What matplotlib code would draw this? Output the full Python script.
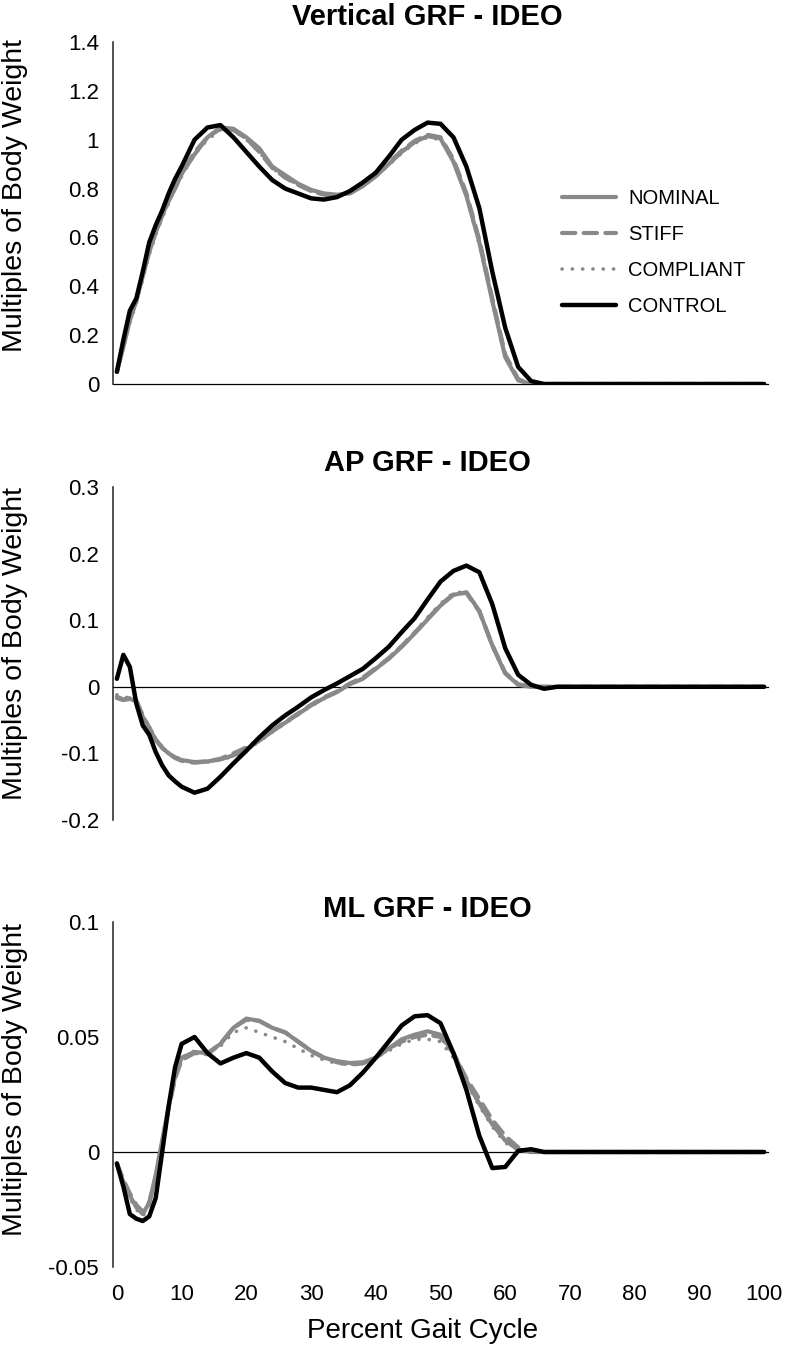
import matplotlib.pyplot as plt

plt.rcParams['font.family'] = ['Liberation Sans', 'DejaVu Sans']
plt.rcParams['axes.unicode_minus'] = False

# Percent of gait cycle (shared x values)
pct = [0, 1, 2, 3, 4, 5, 6, 7, 8, 9, 10, 12, 14, 16, 18, 20, 22, 24, 26, 28, 30,
       32, 34, 36, 38, 40, 42, 44, 46, 48, 50, 52, 54, 56, 58, 60, 62, 64, 66, 68, 100]

series_names = ["NOMINAL", "STIFF", "COMPLIANT", "CONTROL"]

# Vertical GRF
vert_nominal = [0.05, 0.15, 0.26, 0.34, 0.44, 0.54, 0.62, 0.69, 0.75, 0.80, 0.86, 0.94, 1.01, 1.05, 1.045,
                1.01, 0.965, 0.89, 0.855, 0.82, 0.795, 0.78, 0.775, 0.78, 0.81, 0.85, 0.90, 0.95, 0.99, 1.015,
                1.005, 0.91, 0.77, 0.58, 0.34, 0.11, 0.015, 0.0, 0.0, 0.0, 0.0]
vert_stiff = [0.05, 0.16, 0.27, 0.34, 0.45, 0.55, 0.62, 0.69, 0.75, 0.81, 0.86, 0.95, 1.01, 1.045, 1.04,
              1.005, 0.95, 0.885, 0.845, 0.815, 0.79, 0.775, 0.77, 0.785, 0.815, 0.855, 0.905, 0.955, 0.995, 1.02,
              1.01, 0.92, 0.78, 0.59, 0.35, 0.12, 0.02, 0.0, 0.0, 0.0, 0.0]
vert_compliant = [0.05, 0.15, 0.25, 0.33, 0.43, 0.53, 0.61, 0.68, 0.74, 0.80, 0.85, 0.94, 1.00, 1.04, 1.04,
                  1.00, 0.95, 0.885, 0.845, 0.815, 0.79, 0.775, 0.77, 0.78, 0.81, 0.85, 0.895, 0.945, 0.985, 1.01,
                  1.00, 0.91, 0.77, 0.57, 0.34, 0.11, 0.015, 0.0, 0.0, 0.0, 0.0]
vert_control = [0.05, 0.18, 0.30, 0.35, 0.46, 0.58, 0.65, 0.71, 0.78, 0.84, 0.89, 1.00, 1.05, 1.06, 1.01,
                0.95, 0.89, 0.835, 0.80, 0.78, 0.76, 0.755, 0.765, 0.79, 0.825, 0.865, 0.93, 1.00, 1.04, 1.07,
                1.065, 1.01, 0.89, 0.72, 0.46, 0.23, 0.07, 0.012, 0.0, 0.0, 0.0]

# AP GRF
ap_nominal = [-0.017, -0.020, -0.018, -0.022, -0.045, -0.062, -0.080, -0.092, -0.100, -0.106, -0.110, -0.113,
              -0.112, -0.109, -0.103, -0.094, -0.081, -0.067, -0.054, -0.041, -0.028, -0.017, -0.008, 0.004,
              0.012, 0.027, 0.042, 0.060, 0.080, 0.101, 0.122, 0.138, 0.142, 0.114, 0.062, 0.020, 0.003,
              0.0, 0.0, 0.0, 0.0]
ap_stiff = [-0.015, -0.019, -0.017, -0.020, -0.043, -0.061, -0.079, -0.091, -0.100, -0.107, -0.111, -0.114,
            -0.112, -0.108, -0.100, -0.091, -0.079, -0.066, -0.053, -0.040, -0.027, -0.016, -0.007, 0.005,
            0.014, 0.028, 0.043, 0.061, 0.081, 0.102, 0.123, 0.139, 0.141, 0.113, 0.063, 0.021, 0.004,
            0.0, 0.0, 0.0, 0.0]
ap_compliant = [-0.012, -0.016, -0.016, -0.021, -0.044, -0.060, -0.078, -0.090, -0.099, -0.105, -0.109, -0.113,
                -0.113, -0.110, -0.104, -0.095, -0.082, -0.068, -0.055, -0.042, -0.029, -0.018, -0.008, 0.004,
                0.013, 0.027, 0.044, 0.062, 0.082, 0.104, 0.125, 0.141, 0.143, 0.115, 0.061, 0.019, 0.003,
                0.0, 0.0, 0.0, 0.0]
ap_control = [0.012, 0.048, 0.030, -0.025, -0.058, -0.072, -0.098, -0.118, -0.133, -0.142, -0.150, -0.159,
              -0.153, -0.135, -0.115, -0.096, -0.076, -0.058, -0.043, -0.030, -0.016, -0.005, 0.005, 0.016,
              0.027, 0.043, 0.060, 0.082, 0.103, 0.131, 0.158, 0.174, 0.182, 0.172, 0.124, 0.058, 0.018,
              0.003, -0.003, 0.0, 0.0]

# ML GRF
ml_nominal = [-0.005, -0.013, -0.019, -0.024, -0.027, -0.022, -0.010, 0.005, 0.020, 0.033, 0.041, 0.0435,
              0.043, 0.047, 0.054, 0.058, 0.057, 0.054, 0.052, 0.048, 0.044, 0.041, 0.0395, 0.0387, 0.039,
              0.041, 0.045, 0.049, 0.051, 0.0525, 0.051, 0.043, 0.031, 0.021, 0.012, 0.005, 0.001,
              0.0, 0.0, 0.0, 0.0]
ml_stiff = [-0.005, -0.012, -0.018, -0.023, -0.026, -0.022, -0.011, 0.004, 0.019, 0.032, 0.040, 0.043,
            0.0425, 0.047, 0.054, 0.0575, 0.057, 0.054, 0.052, 0.048, 0.044, 0.041, 0.039, 0.038, 0.0385,
            0.041, 0.045, 0.048, 0.050, 0.051, 0.050, 0.043, 0.032, 0.023, 0.014, 0.007, 0.002,
            0.0, 0.0, 0.0, 0.0]
ml_compliant = [-0.005, -0.014, -0.020, -0.025, -0.028, -0.023, -0.011, 0.004, 0.019, 0.032, 0.041, 0.044,
                0.043, 0.046, 0.052, 0.054, 0.052, 0.050, 0.048, 0.045, 0.042, 0.040, 0.0385, 0.038, 0.039,
                0.041, 0.044, 0.047, 0.049, 0.049, 0.048, 0.041, 0.030, 0.020, 0.011, 0.004, 0.001,
                0.0, 0.0, 0.0, 0.0]
ml_control = [-0.005, -0.015, -0.027, -0.029, -0.030, -0.028, -0.020, 0.0, 0.020, 0.037, 0.047, 0.050,
              0.043, 0.0385, 0.041, 0.043, 0.041, 0.035, 0.030, 0.028, 0.028, 0.027, 0.026, 0.029, 0.0345,
              0.041, 0.048, 0.055, 0.059, 0.0595, 0.056, 0.043, 0.027, 0.007, -0.007, -0.0065, 0.0005,
              0.0012, 0.0, 0.0, 0.0]

panels = [
    ("Vertical GRF - IDEO", [vert_nominal, vert_stiff, vert_compliant, vert_control],
     [0, 0.2, 0.4, 0.6, 0.8, 1, 1.2, 1.4], (0, 1.4)),
    ("AP GRF - IDEO", [ap_nominal, ap_stiff, ap_compliant, ap_control],
     [-0.2, -0.1, 0, 0.1, 0.2, 0.3], (-0.2, 0.3)),
    ("ML GRF - IDEO", [ml_nominal, ml_stiff, ml_compliant, ml_control],
     [-0.05, 0, 0.05, 0.1], (-0.05, 0.1)),
]

W, H = 786, 1349
# axes boxes in pixels: (top, bottom)
boxes = [(42, 384), (487, 820), (922, 1267)]
title_y = [17, 463, 909]
ylabel_y = [196, 644, 1079]
left_px, right_px = 113, 768

gray = "#898989"
styles = [
    dict(color=gray, lw=3.0, ls="-", solid_capstyle="round"),
    dict(color=gray, lw=3.0, ls=(0, (3.2, 2.0)), dash_capstyle="round"),
    dict(color=gray, lw=2.6, ls=(0, (0.05, 2.8)), dash_capstyle="round"),
    dict(color="black", lw=3.2, ls="-", solid_capstyle="round"),
]

fig = plt.figure(figsize=(W / 100, H / 100), dpi=100)

for i, (title, data, yticks, ylim) in enumerate(panels):
    top, bottom = boxes[i]
    ax = fig.add_axes([left_px / W, 1 - bottom / H, (right_px - left_px) / W, (bottom - top) / H])
    for vals, name, st in zip(data, series_names, styles):
        ax.plot(pct, vals, label=name, **st)
    ax.axhline(0, color="black", lw=0.9, clip_on=False, zorder=1)
    ax.set_xlim(-0.6, 100.6)
    ax.set_ylim(*ylim)
    ax.set_yticks(yticks)
    ax.set_yticklabels([f"{v:g}" for v in yticks])
    for s in ["top", "right", "bottom"]:
        ax.spines[s].set_visible(False)
    ax.spines["left"].set_color("#222222")
    ax.spines["left"].set_linewidth(1.1)
    ax.tick_params(axis="y", length=0, pad=10, labelsize=16)
    if i == 2:
        ax.set_xticks(range(0, 101, 10))
        ax.tick_params(axis="x", length=0, pad=12, labelsize=16)
    else:
        ax.set_xticks([])
    fig.text(427 / W, 1 - title_y[i] / H, title, ha="center", va="center",
             fontsize=21, fontweight="bold")
    fig.text(15 / W, 1 - ylabel_y[i] / H, "Multiples of Body Weight", ha="center", va="center",
             rotation=90, fontsize=20.5)
    if i == 0:
        ax.legend(loc="upper left", bbox_to_anchor=(562 / W, 1 - 189 / H),
                  bbox_transform=fig.transFigure, frameon=False, fontsize=14.5,
                  handlelength=2.7, handletextpad=0.6, labelspacing=0.85,
                  borderpad=0, borderaxespad=0)

fig.text(423 / W, 1 - 1331 / H, "Percent Gait Cycle", ha="center", va="center", fontsize=20)

plt.savefig("out.png", dpi=100)
